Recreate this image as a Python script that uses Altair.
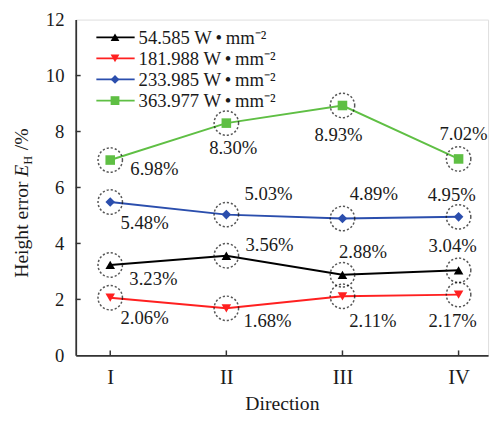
import altair as alt
import pandas as pd

# ---- data ----
directions = [1, 2, 3, 4]
dir_labels = ["I", "II", "III", "IV"]
series_names = [
    "54.585 W\u2009•\u2009mm⁻²",
    "181.988 W\u2009•\u2009mm⁻²",
    "233.985 W\u2009•\u2009mm⁻²",
    "363.977 W\u2009•\u2009mm⁻²",
]
err_54 = [3.23, 3.56, 2.88, 3.04]
err_181 = [2.06, 1.68, 2.11, 2.17]
err_233 = [5.48, 5.03, 4.89, 4.95]
err_363 = [6.98, 8.30, 8.93, 7.02]
y_ticks = [0, 2, 4, 6, 8, 10, 12]

# ---- styles / layout ----
colors = ["#000000", "#ff2020", "#2b4ead", "#5fbf44"]
shapes = ["triangle-up", "triangle-down", "diamond", "square"]
# label offsets (px) relative to each point: [series][direction]
label_dx = [[44, 44, 21, -6], [35, 42, 31, -6], [35, 43, 32, -7], [45, 7, -4, 5]]
label_dy = [[14, -11, -23, -25], [21, 13, 25, 27], [21, -21, -25, -22], [9, 25, 30, -25]]

FONT = "Liberation Serif"
TXT = "#1a1a1a"
W, H = 420, 342

all_err = [err_54, err_181, err_233, err_363]
rows = []
for s, vals in zip(series_names, all_err):
    for d, v in zip(directions, vals):
        rows.append({"series": s, "dir": d, "err": v, "label": f"{v:.2f}%"})
df = pd.DataFrame(rows)

label_expr = "[" + ",".join(f"'{l}'" for l in dir_labels) + "][datum.value-1]"

xs = alt.Scale(domain=[0.703, 4.254], nice=False, zero=False)
ys = alt.Scale(domain=[0, 12], nice=False)
cs = alt.Scale(domain=series_names, range=colors)
ss = alt.Scale(domain=series_names, range=shapes)

x_enc = alt.X(
    "dir:Q", scale=xs,
    axis=alt.Axis(
        values=directions, title="Direction", grid=False, ticks=False, tickSize=0,
        labelExpr=label_expr,
        labelFont=FONT, labelFontSize=21, labelPadding=12, labelColor=TXT,
        titleFont=FONT, titleFontSize=20, titleFontWeight="normal", titleColor=TXT,
        titlePadding=6, domainColor="#333", domainWidth=1.8,
    ),
)
y_enc = alt.Y(
    "err:Q", scale=ys,
    axis=alt.Axis(
        values=y_ticks, title=None, grid=False, ticks=False, tickSize=0,
        labelFont=FONT, labelFontSize=19, labelPadding=12, labelColor=TXT,
        domainColor="#333", domainWidth=1.8,
    ),
)

base = alt.Chart(df)
lines = base.mark_line(strokeWidth=2).encode(
    x=x_enc, y=y_enc, color=alt.Color("series:N", scale=cs, legend=None), detail="series:N"
)
circles = base.mark_point(
    shape="circle", size=620, filled=False, color="#111", strokeWidth=1.5, strokeDash=[2.2, 2]
).encode(x="dir:Q", y="err:Q")
markers = base.mark_point(filled=True, size=95, opacity=1).encode(
    x="dir:Q", y="err:Q",
    color=alt.Color("series:N", scale=cs, legend=None),
    shape=alt.Shape("series:N", scale=ss, legend=None),
)

layers = [lines, circles, markers]

# data labels
for i, s in enumerate(series_names):
    for j, d in enumerate(directions):
        layers.append(
            alt.Chart(df).transform_filter(
                (alt.datum.series == s) & (alt.datum.dir == d)
            ).mark_text(
                font=FONT, fontSize=19, color=TXT, align="center", baseline="middle",
                dx=label_dx[i][j], dy=label_dy[i][j],
            ).encode(x="dir:Q", y="err:Q", text="label:N")
        )

# inward ticks
ytick_df = pd.DataFrame({"t": y_ticks[1:-1]})
layers.append(alt.Chart(ytick_df).mark_rule(color="#333", strokeWidth=1.5).encode(
    y=alt.Y("t:Q"), x=alt.value(0), x2=alt.value(5)))
xtick_df = pd.DataFrame({"t": directions})
layers.append(alt.Chart(xtick_df).mark_rule(color="#333", strokeWidth=1.5).encode(
    x=alt.X("t:Q"), y=alt.value(H), y2=alt.value(H - 5)))

# manual legend
for i, s in enumerate(series_names):
    ly = 18 + 21.5 * i
    ldf = pd.DataFrame({"series": [s]})
    layers.append(alt.Chart(ldf).mark_rule(color=colors[i], strokeWidth=1.8).encode(
        x=alt.value(21), x2=alt.value(60), y=alt.value(ly)))
    layers.append(alt.Chart(ldf).mark_point(
        filled=True, size=80, opacity=1, shape=shapes[i], color=colors[i]
    ).encode(x=alt.value(40), y=alt.value(ly)))
    layers.append(alt.Chart(ldf).mark_text(
        font=FONT, fontSize=19, color=TXT, align="left", baseline="middle"
    ).encode(x=alt.value(64), y=alt.value(ly + 1), text="series:N"))

# y-axis title pieces: "Height error E_H /%"
title_parts = [
    ("Height error\u00a0", 20, "normal", -49, 263),
    ("E", 20, "italic", -49, 160),
    ("H", 12, "normal", -45, 147.5),
    ("/%", 20, "normal", -49, 133),
]
for txt, fs, style, tx, ty in title_parts:
    layers.append(alt.Chart(pd.DataFrame({"t": [txt]})).mark_text(
        font=FONT, fontSize=fs, fontStyle=style, color=TXT, angle=270,
        align="left", baseline="alphabetic"
    ).encode(x=alt.value(tx), y=alt.value(ty), text="t:N"))

chart = alt.layer(*layers).properties(
    width=W, height=H,
    autosize=alt.AutoSizeParams(type="none"),
    padding={"left": 69, "top": 8, "right": 4, "bottom": 60},
).configure_view(stroke="#333", strokeWidth=1.8).configure(background="white")

chart.save("out.html", embed_options={"renderer": "svg", "actions": False})
